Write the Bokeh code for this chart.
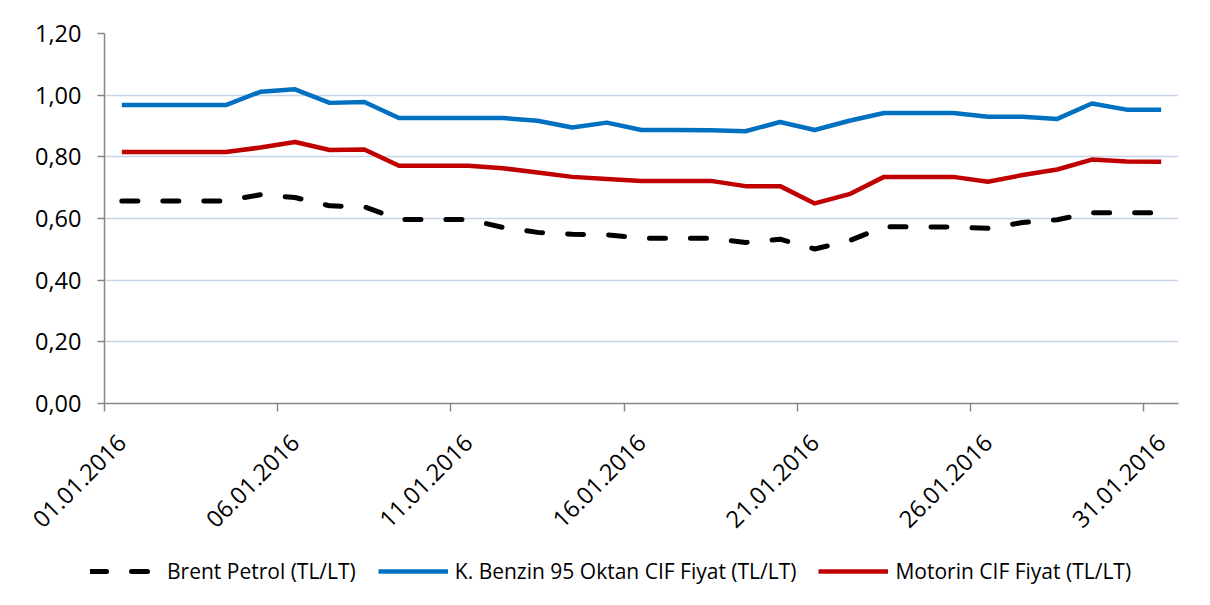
import math
from bokeh.plotting import figure
from bokeh.layouts import column
from bokeh.models import Range1d, FixedTicker, CustomJSTickFormatter, Legend, LegendItem, ColumnDataSource
from bokeh.embed import file_html
from bokeh.resources import INLINE

days = ["%02d.01.2016" % d for d in range(1, 32)]
tick_days = ["01.01.2016", "06.01.2016", "11.01.2016", "16.01.2016",
             "21.01.2016", "26.01.2016", "31.01.2016"]

brent = [0.657, 0.657, 0.657, 0.657, 0.677, 0.668, 0.641, 0.638, 0.597, 0.597,
         0.597, 0.571, 0.555, 0.549, 0.547, 0.536, 0.536, 0.536, 0.522, 0.533,
         0.501, 0.528, 0.573, 0.573, 0.572, 0.568, 0.587, 0.596, 0.619, 0.619, 0.619]
benzin = [0.968, 0.968, 0.968, 0.968, 1.011, 1.019, 0.975, 0.978, 0.926, 0.926,
          0.926, 0.926, 0.917, 0.895, 0.911, 0.887, 0.887, 0.886, 0.883, 0.913,
          0.887, 0.917, 0.942, 0.942, 0.942, 0.930, 0.930, 0.923, 0.973, 0.953, 0.953]
motorin = [0.816, 0.816, 0.816, 0.816, 0.830, 0.848, 0.822, 0.824, 0.771, 0.771,
           0.771, 0.763, 0.749, 0.735, 0.728, 0.722, 0.722, 0.722, 0.705, 0.705,
           0.649, 0.679, 0.735, 0.735, 0.735, 0.719, 0.741, 0.759, 0.791, 0.785, 0.784]

series_names = ["Brent Petrol (TL/LT)", "K. Benzin 95 Oktan CIF Fiyat (TL/LT)",
                "Motorin CIF Fiyat (TL/LT)"]
y_ticks = [0.0, 0.2, 0.4, 0.6, 0.8, 1.0, 1.2]

FONT = "Open Sans"
AXIS_COLOR = "#868686"
STYLES = [dict(line_color="black", line_width=5, line_dash="16 25", line_cap="round"),
          dict(line_color="#0070C0", line_width=4.5),
          dict(line_color="#C00000", line_width=4.5)]

src = ColumnDataSource(dict(x=list(range(len(days))), day=days,
                            brent=brent, benzin=benzin, motorin=motorin))

p = figure(width=1198, height=548, output_backend="svg", toolbar_location=None,
           x_range=Range1d(-0.5, len(days) - 0.5), y_range=Range1d(0, 1.2),
           min_border_left=104, min_border_right=20, min_border_top=33,
           min_border_bottom=145)
p.outline_line_color = None
p.background_fill_color = "white"
p.border_fill_color = "white"
p.frame_align = False

for col, st in zip(["brent", "benzin", "motorin"], STYLES):
    p.line("x", col, source=src, line_join="round", **st)

# x axis
tick_idx = [days.index(t) for t in tick_days]
xt = FixedTicker(ticks=tick_idx, minor_ticks=[i - 0.5 for i in tick_idx])
p.xaxis.ticker = xt
p.xaxis.major_label_overrides = {i: t for i, t in zip(tick_idx, tick_days)}
p.xaxis.major_label_orientation = math.pi / 4
p.xaxis.major_tick_out = 0
p.xaxis.major_tick_in = 0
p.xaxis.minor_tick_out = 8
p.xaxis.minor_tick_in = 0
p.xaxis.minor_tick_line_color = AXIS_COLOR
p.xaxis.minor_tick_line_width = 1.5
p.xaxis.axis_line_color = AXIS_COLOR
p.xaxis.axis_line_width = 1.5
p.xaxis.major_label_text_font = FONT
p.xaxis.major_label_text_font_size = "23.5px"
p.xaxis.major_label_text_color = "black"
p.xaxis.major_label_standoff = 27

# y axis
p.yaxis.ticker = FixedTicker(ticks=y_ticks)
p.yaxis.formatter = CustomJSTickFormatter(code="return tick.toFixed(2).replace('.', ',');")
p.yaxis.major_tick_out = 7
p.yaxis.major_tick_in = 0
p.yaxis.minor_tick_out = 0
p.yaxis.minor_tick_in = 0
p.yaxis.major_tick_line_color = AXIS_COLOR
p.yaxis.major_tick_line_width = 1.5
p.yaxis.axis_line_color = AXIS_COLOR
p.yaxis.axis_line_width = 1.5
p.yaxis.major_label_text_font = FONT
p.yaxis.major_label_text_font_size = "23.5px"
p.yaxis.major_label_text_color = "black"
p.yaxis.major_label_standoff = 16

p.xgrid.grid_line_color = None
p.ygrid.grid_line_color = "#C6D5EA"
p.ygrid.grid_line_width = 1.5

# legend strip below the chart (own small figure, not frame-aligned)
lg = figure(width=1198, height=49, output_backend="svg", toolbar_location=None,
            x_axis_type=None, y_axis_type=None,
            x_range=Range1d(0, 1), y_range=Range1d(0, 1),
            min_border_left=0, min_border_right=0, min_border_top=0,
            min_border_bottom=0)
lg.outline_line_color = None
lg.grid.grid_line_color = None
lg.frame_align = False
items = []
for name, st in zip(series_names, STYLES):
    r = lg.line(x=[float("nan")], y=[float("nan")], **st)
    items.append(LegendItem(label=name, renderers=[r]))

legend = Legend(items=items, orientation="horizontal", location=(90, 12),
                glyph_width=70, glyph_height=26, label_height=26,
                label_standoff=7, spacing=22,
                padding=0, margin=0, border_line_color=None,
                background_fill_alpha=0,
                label_text_font=FONT, label_text_font_size="21px",
                label_text_color="black")
lg.add_layout(legend, "center")

layout = column(p, lg, spacing=0)
open("out.html", "w").write(file_html(layout, INLINE))
